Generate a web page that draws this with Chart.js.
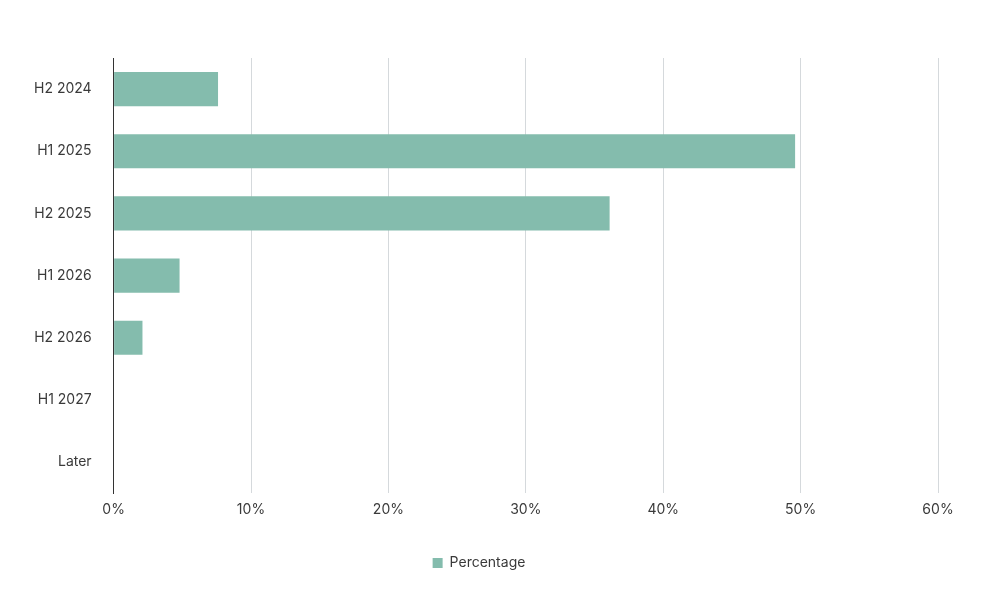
<!DOCTYPE html>
<html><head><meta charset="utf-8">
<script src="https://cdn.jsdelivr.net/npm/chart.js@4/dist/chart.umd.min.js"></script>
<style>html,body{margin:0;padding:0;background:#fff}#w{width:1000px;height:590px}</style>
</head><body><div id="w"><canvas id="c"></canvas></div>
<script>
const categories = ["H2 2024","H1 2025","H2 2025","H1 2026","H2 2026","H1 2027","Later"];
const percentages = [7.6, 49.6, 36.1, 4.8, 2.1, 0, 0];
const xTicks = [0,10,20,30,40,50,60];
Chart.defaults.font.family = "Inter, 'Noto Sans', sans-serif";
Chart.defaults.font.size = 14;
Chart.defaults.color = "#3a3a3a";
new Chart(document.getElementById('c'), {
  type: 'bar',
  data: { labels: categories, datasets: [{ label: 'Percentage', data: percentages, backgroundColor: '#84bcad', barPercentage: 0.55, categoryPercentage: 1 }] },
  options: {
    indexAxis: 'y', responsive: true, maintainAspectRatio: false, animation: false,
    layout: { padding: { top: 58, right: 62, left: 20, bottom: 10 } },
    scales: {
      x: { min: 0, max: 60, afterBuildTicks: a => { a.ticks = xTicks.map(v => ({value: v})); },
           ticks: { callback: v => v + '%', padding: 8 },
           grid: { color: '#d5d9dc', drawTicks: false }, border: { display: false } },
      y: { grid: { display: false }, border: { color: '#333', width: 1 }, ticks: { padding: 14 } }
    },
    plugins: { legend: { position: 'bottom', labels: { boxWidth: 10, boxHeight: 10, padding: 30 } }, tooltip: { enabled: false } }
  }
});
</script></body></html>
